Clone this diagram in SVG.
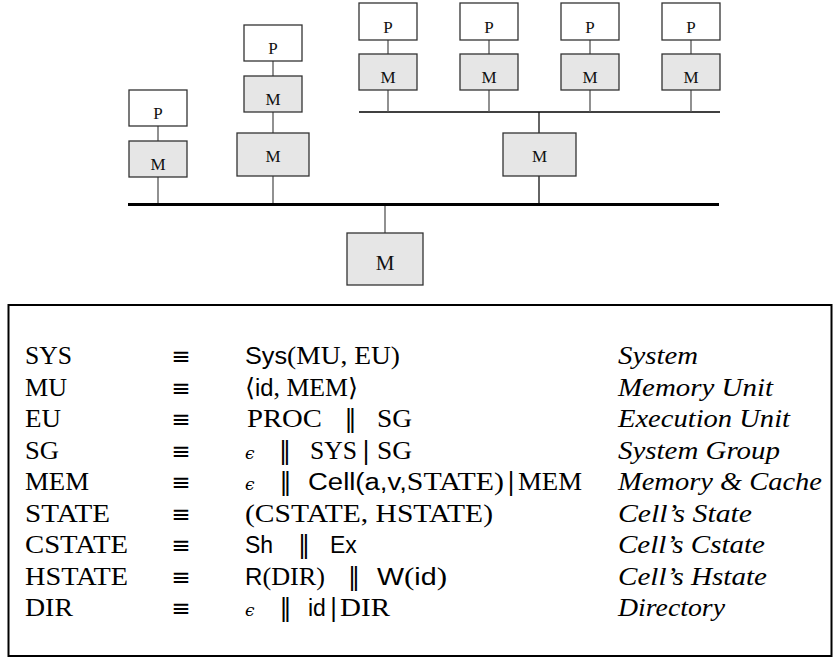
<svg xmlns="http://www.w3.org/2000/svg" width="833" height="658" viewBox="0 0 833 658">
<style>
.pb{fill:#fff;stroke:#333;stroke-width:1.3}
.mb{fill:#e6e6e6;stroke:#333;stroke-width:1.3}
.lb{font-family:"Liberation Serif","DejaVu Serif",serif;font-size:17px;text-anchor:middle;fill:#111}
.w{stroke:#555;stroke-width:1.3;fill:none}
.wk{stroke:#111;stroke-width:1.3;fill:none}
.bus{stroke:#000;stroke-width:3;fill:none}
.bus2{stroke:#000;stroke-width:1.6;fill:none}
.t{font-family:"Liberation Serif","DejaVu Serif",serif;font-size:25px;fill:#000}
.sf{font-family:"Liberation Sans","DejaVu Sans",sans-serif;font-size:23px}
.it{font-family:"Liberation Serif","DejaVu Serif",serif;font-size:25px;font-style:italic;fill:#000}
.eq{font-family:"DejaVu Sans",sans-serif;font-size:23px;text-anchor:middle;fill:#000}
.bar{font-family:"DejaVu Sans",sans-serif;font-size:24px;text-anchor:middle;fill:#000}
.eps{font-family:"DejaVu Serif",serif;font-size:17px;font-style:italic;fill:#000}
</style>
<g id="connectors">
<line class="bus" x1="128" y1="204.5" x2="719" y2="204.5"/>
<line class="bus2" x1="359" y1="112" x2="720" y2="112"/>
<line class="w" x1="158" y1="126" x2="158" y2="141"/>
<line class="w" x1="158" y1="177" x2="158" y2="203"/>
<line class="w" x1="273" y1="61" x2="273" y2="76"/>
<line class="w" x1="273" y1="112" x2="273" y2="133"/>
<line class="w" x1="273" y1="176" x2="273" y2="203"/>
<line class="w" x1="388" y1="40" x2="388" y2="54"/>
<line class="w" x1="489" y1="40" x2="489" y2="54"/>
<line class="w" x1="590" y1="40" x2="590" y2="54"/>
<line class="w" x1="691" y1="40" x2="691" y2="54"/>
<line class="w" x1="388" y1="90" x2="388" y2="112"/>
<line class="w" x1="489" y1="90" x2="489" y2="112"/>
<line class="w" x1="590" y1="90" x2="590" y2="112"/>
<line class="w" x1="691" y1="90" x2="691" y2="112"/>
<line class="wk" x1="539" y1="112" x2="539" y2="133"/>
<line class="wk" x1="539" y1="176" x2="539" y2="203"/>
<line class="w" x1="385" y1="206" x2="385" y2="233"/>
</g>
<g id="p1"><rect class="pb" x="129" y="90" width="58" height="36"/><text class="lb" x="158" y="119">P</text></g>
<g id="m1"><rect class="mb" x="129" y="141" width="58" height="36"/><text class="lb" x="158" y="170">M</text></g>
<g id="p2"><rect class="pb" x="244" y="25" width="58" height="36"/><text class="lb" x="273" y="54">P</text></g>
<g id="m2a"><rect class="mb" x="244" y="76" width="58" height="36"/><text class="lb" x="273" y="105">M</text></g>
<g id="m2b"><rect class="mb" x="237" y="133" width="72" height="43"/><text class="lb" x="273" y="162">M</text></g>
<g id="p3"><rect class="pb" x="359" y="3" width="58" height="37"/><text class="lb" x="388" y="33">P</text></g>
<g id="m3"><rect class="mb" x="359" y="54" width="58" height="36"/><text class="lb" x="388" y="83">M</text></g>
<g id="p4"><rect class="pb" x="460" y="3" width="58" height="37"/><text class="lb" x="489" y="33">P</text></g>
<g id="m4"><rect class="mb" x="460" y="54" width="58" height="36"/><text class="lb" x="489" y="83">M</text></g>
<g id="p5"><rect class="pb" x="561" y="3" width="58" height="37"/><text class="lb" x="590" y="33">P</text></g>
<g id="m5"><rect class="mb" x="561" y="54" width="58" height="36"/><text class="lb" x="590" y="83">M</text></g>
<g id="p6"><rect class="pb" x="662" y="3" width="58" height="37"/><text class="lb" x="691" y="33">P</text></g>
<g id="m6"><rect class="mb" x="662" y="54" width="58" height="36"/><text class="lb" x="691" y="83">M</text></g>
<g id="mmid"><rect class="mb" x="503" y="133" width="73" height="43"/><text class="lb" x="539.5" y="162">M</text></g>
<g id="mbot"><rect class="mb" x="347" y="233" width="76" height="52"/><text class="lb" x="385" y="270" style="font-size:21px">M</text></g>
<g id="grammar">
<rect x="8.5" y="305" width="823" height="351" fill="none" stroke="#000" stroke-width="2"/>
<text class="t" x="25" y="364" textLength="47" lengthAdjust="spacingAndGlyphs">SYS</text>
<text class="t" x="25" y="395.5" textLength="42" lengthAdjust="spacingAndGlyphs">MU</text>
<text class="t" x="25" y="427" textLength="36" lengthAdjust="spacingAndGlyphs">EU</text>
<text class="t" x="25" y="458.5" textLength="34" lengthAdjust="spacingAndGlyphs">SG</text>
<text class="t" x="25" y="490" textLength="64" lengthAdjust="spacingAndGlyphs">MEM</text>
<text class="t" x="25" y="521.5" textLength="85" lengthAdjust="spacingAndGlyphs">STATE</text>
<text class="t" x="25" y="553" textLength="103" lengthAdjust="spacingAndGlyphs">CSTATE</text>
<text class="t" x="25" y="584.5" textLength="103" lengthAdjust="spacingAndGlyphs">HSTATE</text>
<text class="t" x="25" y="616" textLength="48" lengthAdjust="spacingAndGlyphs">DIR</text>
<text class="eq" x="181" y="364">≡</text>
<text class="eq" x="181" y="395.5">≡</text>
<text class="eq" x="181" y="427">≡</text>
<text class="eq" x="181" y="458.5">≡</text>
<text class="eq" x="181" y="490">≡</text>
<text class="eq" x="181" y="521.5">≡</text>
<text class="eq" x="181" y="553">≡</text>
<text class="eq" x="181" y="584.5">≡</text>
<text class="eq" x="181" y="616">≡</text>
<text class="t" x="245" y="364" textLength="155" lengthAdjust="spacingAndGlyphs"><tspan class="sf">Sys</tspan>(MU, EU)</text>
<text class="t" x="245" y="395.5" textLength="113" lengthAdjust="spacingAndGlyphs">⟨<tspan class="sf">id</tspan>, MEM⟩</text>
<text class="t" x="247" y="427" textLength="75" lengthAdjust="spacingAndGlyphs">PROC</text>
<text class="bar" x="350.5" y="427">‖</text>
<text class="t" x="377" y="427" textLength="35" lengthAdjust="spacingAndGlyphs">SG</text>
<text class="eps" x="245" y="458.5">ϵ</text>
<text class="bar" x="285" y="458.5">‖</text>
<text class="t" x="310" y="458.5" textLength="47" lengthAdjust="spacingAndGlyphs">SYS</text>
<text class="bar" x="366" y="458.5">|</text>
<text class="t" x="377" y="458.5" textLength="35" lengthAdjust="spacingAndGlyphs">SG</text>
<text class="eps" x="245" y="490">ϵ</text>
<text class="bar" x="285.5" y="490">‖</text>
<text class="t" x="308" y="490" textLength="196" lengthAdjust="spacingAndGlyphs"><tspan class="sf">Cell(a,v,</tspan>STATE)</text>
<text class="bar" x="511" y="490">|</text>
<text class="t" x="518" y="490" textLength="64" lengthAdjust="spacingAndGlyphs">MEM</text>
<text class="t" x="245" y="521.5" textLength="248" lengthAdjust="spacingAndGlyphs">(CSTATE, HSTATE)</text>
<text class="sf" x="245" y="553">Sh</text>
<text class="bar" x="304" y="553">‖</text>
<text class="sf" x="330" y="553">Ex</text>
<text class="t" x="245" y="584.5" textLength="80" lengthAdjust="spacingAndGlyphs"><tspan class="sf">R</tspan>(DIR)</text>
<text class="bar" x="354" y="584.5">‖</text>
<text class="t" x="377" y="584.5" textLength="70" lengthAdjust="spacingAndGlyphs"><tspan class="sf">W</tspan>(<tspan class="sf">id</tspan>)</text>
<text class="eps" x="245" y="616">ϵ</text>
<text class="bar" x="285.5" y="616">‖</text>
<text class="sf" x="308" y="616">id</text>
<text class="bar" x="333.5" y="616">|</text>
<text class="t" x="340" y="616" textLength="50" lengthAdjust="spacingAndGlyphs">DIR</text>
<text class="it" x="618" y="364" textLength="80" lengthAdjust="spacingAndGlyphs">System</text>
<text class="it" x="618" y="395.5" textLength="155" lengthAdjust="spacingAndGlyphs">Memory Unit</text>
<text class="it" x="618" y="427" textLength="172" lengthAdjust="spacingAndGlyphs">Execution Unit</text>
<text class="it" x="618" y="458.5" textLength="162" lengthAdjust="spacingAndGlyphs">System Group</text>
<text class="it" x="618" y="490" textLength="204" lengthAdjust="spacingAndGlyphs">Memory &amp; Cache</text>
<text class="it" x="618" y="521.5" textLength="134" lengthAdjust="spacingAndGlyphs">Cell’s State</text>
<text class="it" x="618" y="553" textLength="147" lengthAdjust="spacingAndGlyphs">Cell’s Cstate</text>
<text class="it" x="618" y="584.5" textLength="149" lengthAdjust="spacingAndGlyphs">Cell’s Hstate</text>
<text class="it" x="618" y="616" textLength="107" lengthAdjust="spacingAndGlyphs">Directory</text>
</g>
</svg>
